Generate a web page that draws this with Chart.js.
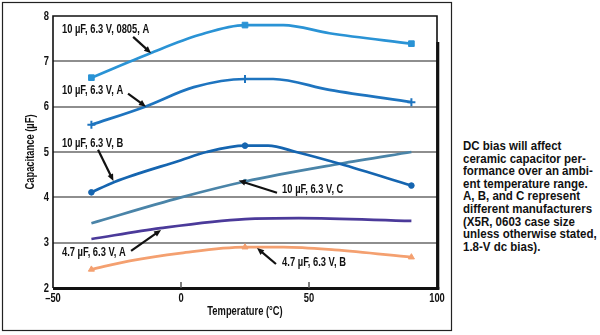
<!DOCTYPE html>
<html>
<head>
<meta charset="utf-8">
<script src="https://cdn.jsdelivr.net/npm/chart.js@4.4.1/dist/chart.umd.min.js"></script>
<style>
  html, body { margin: 0; padding: 0; background: #ffffff; }
  body { width: 600px; height: 335px; position: relative; overflow: hidden; }
  #wrap { position: absolute; left: 0; top: 0; width: 455px; height: 335px; }
  #note {
    position: absolute; left: 463px; top: 140px;
    font-family: "Liberation Sans", Arial, sans-serif;
    font-weight: bold; font-size: 13px; line-height: 12.6px; color: #111;
    white-space: pre;
    transform: scaleX(0.885); transform-origin: 0 0;
  }
</style>
</head>
<body>
<div id="wrap"><canvas id="chart" width="455" height="335"></canvas></div>
<div id="note">DC bias will affect
ceramic capacitor per-
formance over an ambi-
ent temperature range.
A, B, and C represent
different manufacturers
(X5R, 0603 case size
unless otherwise stated,
1.8-V dc bias).</div>
<script>
// Capacitance (µF) versus ambient temperature (°C)
const seriesNames = [
  "10 µF, 6.3 V, 0805, A",
  "10 µF, 6.3 V, A",
  "10 µF, 6.3 V, B",
  "10 µF, 6.3 V, C",
  "4.7 µF, 6.3 V, A",
  "4.7 µF, 6.3 V, B"
];

const temp0805A = [-35, -12, 7, 25, 40, 58, 90];
const cap0805A  = [6.64, 7.18, 7.58, 7.80, 7.80, 7.62, 7.39];

const temp10A = [-35, -14, 5, 25, 36, 58, 90];
const cap10A  = [5.60, 6.00, 6.43, 6.61, 6.61, 6.37, 6.10];

const temp10B = [-35, -26, 0, 10, 25, 34, 45, 62, 90];
const cap10B  = [4.11, 4.34, 4.82, 5.00, 5.14, 5.14, 5.00, 4.74, 4.26];

const temp10C = [-35, 0, 25, 62, 90];
const cap10C  = [3.43, 4.00, 4.35, 4.74, 5.00];

const temp47A = [-35, -8, 25, 46, 90];
const cap47A  = [3.08, 3.32, 3.52, 3.54, 3.48];

const temp47B = [-35, -20, 0, 25, 40, 60, 90];
const cap47B  = [2.41, 2.60, 2.77, 2.90, 2.90, 2.84, 2.68];

// temperatures at which measurement markers are drawn
const markerTemps = [-35, 25, 90];

const xTicks = [-50, 0, 50, 100];
const yTicks = [2, 3, 4, 5, 6, 7, 8];

const xTitle = 'Temperature (°C)';
const yTitle = 'Capacitance (µF)';

// condensed bold lettering for everything drawn on the chart
const FONT = 'bold 13px "Liberation Sans", Arial, sans-serif';
const SQUEEZE = 0.72;

function pts(t, c) { return t.map((x, i) => ({ x: x, y: c[i] })); }

function makeSet(name, t, c, color, style, radius, marked) {
  return {
    label: name,
    data: pts(t, c),
    borderColor: color,
    backgroundColor: color,
    borderWidth: 2.7,
    cubicInterpolationMode: 'monotone',
    pointStyle: style,
    pointBorderWidth: style === 'cross' ? 2 : 1,
    pointRadius: (ctx) => {
      const raw = ctx.raw;
      return raw && marked.includes(raw.x) ? radius : 0;
    },
    pointHoverRadius: 0
  };
}

const datasets = [
  makeSet(seriesNames[0], temp0805A, cap0805A, '#2a93d5', 'rect', 4, markerTemps),
  makeSet(seriesNames[1], temp10A, cap10A, '#1e74bf', 'cross', 4, markerTemps),
  makeSet(seriesNames[2], temp10B, cap10B, '#1565b0', 'circle', 2.8, markerTemps),
  makeSet(seriesNames[3], temp10C, cap10C, '#4a84a8', 'circle', 2.2, [25]),
  makeSet(seriesNames[4], temp47A, cap47A, '#4b3a9a', 'circle', 0, []),
  makeSet(seriesNames[5], temp47B, cap47B, '#f4a070', 'triangle', 3.5, markerTemps)
];

// callout labels: text position and arrow tail/head in data units
const callouts = [
  { text: seriesNames[0], at: [-46.5, 7.71], from: [-18.7, 7.54], to: [-11.7, 7.18] },
  { text: seriesNames[1], at: [-46.5, 6.35], from: [-20.7, 6.29], to: [-13.7, 6.00] },
  { text: seriesNames[2], at: [-46.5, 5.20], from: [-32.4, 5.05], to: [-26.4, 4.36] },
  { text: seriesNames[3], at: [39.5, 4.18], from: [37.5, 4.10], to: [22.5, 4.37] },
  { text: seriesNames[4], at: [-46.5, 2.79], from: [-19.5, 2.82], to: [-7.8, 3.28] },
  { text: seriesNames[5], at: [39.5, 2.57], from: [37.1, 2.53], to: [29.7, 2.88] }
];

function squeezedText(ctx, text, x, y, align, rot) {
  ctx.save();
  ctx.translate(x, y);
  if (rot) ctx.rotate(rot);
  ctx.scale(SQUEEZE, 1);
  ctx.font = FONT;
  ctx.fillStyle = '#111';
  ctx.textAlign = align;
  ctx.textBaseline = 'middle';
  ctx.fillText(text, 0, 0);
  ctx.restore();
}

const framePlugin = {
  id: 'frame',
  beforeDraw(chart) {
    const ctx = chart.ctx;
    ctx.save();
    ctx.fillStyle = '#ffffff';
    ctx.fillRect(0, 0, chart.width, chart.height);
    ctx.strokeStyle = '#222';
    ctx.lineWidth = 1.2;
    ctx.strokeRect(2.5, 2.5, 449, 328);
    ctx.restore();
  },
  afterDatasetsDraw(chart) {
    const { ctx, chartArea: a, scales } = chart;
    ctx.save();
    // plot frame: thin top/left, heavy shadow on right and bottom
    ctx.strokeStyle = '#111';
    ctx.lineWidth = 1.6;
    ctx.beginPath();
    ctx.moveTo(a.left, a.bottom);
    ctx.lineTo(a.left, a.top);
    ctx.lineTo(a.right, a.top);
    ctx.lineTo(a.right, a.bottom);
    ctx.stroke();
    ctx.lineWidth = 3;
    ctx.beginPath();
    ctx.moveTo(a.right + 0.8, a.top + 26);
    ctx.lineTo(a.right + 0.8, a.bottom + 1.5);
    ctx.stroke();
    ctx.beginPath();
    ctx.moveTo(a.left, a.bottom + 0.5);
    ctx.lineTo(a.right + 2.3, a.bottom + 0.5);
    ctx.stroke();
    // inward x ticks
    ctx.strokeStyle = '#555';
    ctx.lineWidth = 1.5;
    [0, 50].forEach(v => {
      const px = scales.x.getPixelForValue(v);
      ctx.beginPath();
      ctx.moveTo(px, a.bottom);
      ctx.lineTo(px, a.bottom - 6);
      ctx.stroke();
    });
    ctx.restore();

    // tick labels and axis titles
    xTicks.forEach(v => {
      squeezedText(ctx, String(v).replace('-', '\u2013'), scales.x.getPixelForValue(v), a.bottom + 10, 'center');
    });
    yTicks.forEach(v => {
      squeezedText(ctx, String(v), a.left - 4, scales.y.getPixelForValue(v), 'right');
    });
    squeezedText(ctx, xTitle, (a.left + a.right) / 2, a.bottom + 23, 'center');
    squeezedText(ctx, yTitle, 30, (a.top + a.bottom) / 2, 'center', -Math.PI / 2);

    // callouts
    ctx.save();
    ctx.fillStyle = '#111';
    callouts.forEach(c => {
      squeezedText(ctx, c.text, scales.x.getPixelForValue(c.at[0]), scales.y.getPixelForValue(c.at[1]), 'left');
      const x1 = scales.x.getPixelForValue(c.from[0]);
      const y1 = scales.y.getPixelForValue(c.from[1]);
      const x2 = scales.x.getPixelForValue(c.to[0]);
      const y2 = scales.y.getPixelForValue(c.to[1]);
      const ang = Math.atan2(y2 - y1, x2 - x1);
      const head = 7;
      ctx.strokeStyle = '#111';
      ctx.lineWidth = 2.2;
      ctx.beginPath();
      ctx.moveTo(x1, y1);
      ctx.lineTo(x2 - Math.cos(ang) * head * 0.8, y2 - Math.sin(ang) * head * 0.8);
      ctx.stroke();
      ctx.beginPath();
      ctx.moveTo(x2, y2);
      ctx.lineTo(x2 - head * Math.cos(ang) + 3 * Math.sin(ang), y2 - head * Math.sin(ang) - 3 * Math.cos(ang));
      ctx.lineTo(x2 - head * Math.cos(ang) - 3 * Math.sin(ang), y2 - head * Math.sin(ang) + 3 * Math.cos(ang));
      ctx.closePath();
      ctx.fill();
    });
    ctx.restore();
  }
};

new Chart(document.getElementById('chart'), {
  type: 'line',
  data: { datasets: datasets },
  plugins: [framePlugin],
  options: {
    responsive: false,
    animation: false,
    devicePixelRatio: 1,
    layout: { padding: { left: 0, top: 16, right: 18, bottom: 0 } },
    plugins: { legend: { display: false }, tooltip: { enabled: false } },
    scales: {
      x: {
        type: 'linear',
        min: -50, max: 100,
        afterBuildTicks: (s) => { s.ticks = xTicks.map(v => ({ value: v })); },
        afterFit: (s) => { s.height = 47; },
        grid: { display: false, drawTicks: false },
        border: { display: false },
        ticks: { display: false }
      },
      y: {
        type: 'linear',
        min: 2, max: 8,
        afterBuildTicks: (s) => { s.ticks = yTicks.map(v => ({ value: v })); },
        afterFit: (s) => { s.width = 53; },
        grid: {
          drawTicks: false,
          lineWidth: 2,
          color: (ctx) => (ctx.tick && (ctx.tick.value === 2 || ctx.tick.value === 8)) ? 'rgba(0,0,0,0)' : '#8e8e8e'
        },
        border: { display: false },
        ticks: { display: false }
      }
    }
  }
});
</script>
</body>
</html>
